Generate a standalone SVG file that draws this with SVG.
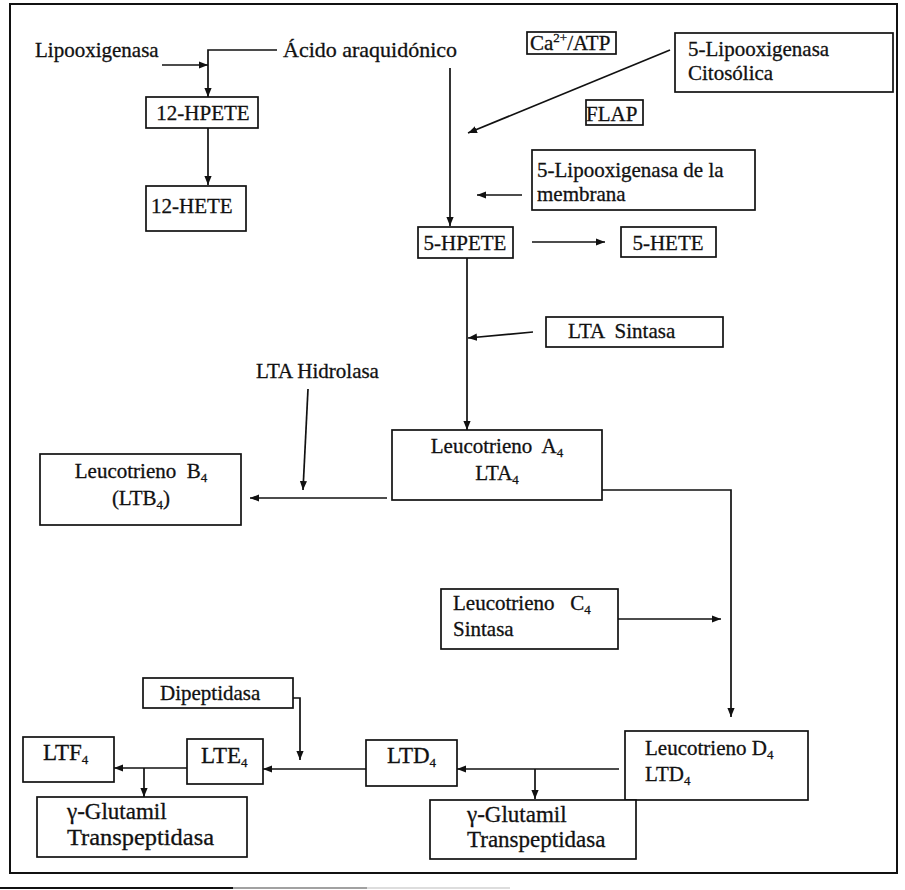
<svg xmlns="http://www.w3.org/2000/svg" width="905" height="890" viewBox="0 0 905 890">
  <style>
    .box { fill: #ffffff; stroke: #111111; stroke-width: 1.7; }
    .lbl { font-family: "Liberation Serif", "Times New Roman", serif; font-size: 21px; fill: #111111; stroke: #111111; stroke-width: 0.3; }
    .big { font-size: 23px; }
    .sub { font-size: 13px; }
    .sup { font-size: 13px; }
    .wire { fill: none; stroke: #111111; stroke-width: 1.7; }
    .arrow { marker-end: url(#ah); }
  </style>
  <defs>
    <marker id="ah" viewBox="0 0 10 8" refX="10" refY="4" markerWidth="9" markerHeight="8" markerUnits="userSpaceOnUse" orient="auto">
      <path d="M0,0 L10,4 L0,8 z" fill="#111111"/>
    </marker>
  </defs>

  <rect width="905" height="890" fill="#ffffff"/>

  <!-- outer frame -->
  <rect x="10" y="4" width="887" height="869" fill="none" stroke="#111111" stroke-width="2"/>
  <!-- rule under the frame -->
  <line x1="0" y1="888" x2="233" y2="888" stroke="#111111" stroke-width="2"/>
  <line x1="233" y1="888" x2="367" y2="888" stroke="#444444" stroke-width="1.2"/>
  <line x1="367" y1="888" x2="510" y2="888" stroke="#bbbbbb" stroke-width="1"/>

  <!-- connectors -->
  <g id="connectors">
    <path class="wire arrow" d="M162,65 L208,65"/>
    <path class="wire arrow" d="M277,50 L208,50 L208,97"/>
    <path class="wire arrow" d="M208,128 L208,185"/>
    <path class="wire arrow" d="M450,68 L450,226"/>
    <path class="wire arrow" d="M670,50 L468,133"/>
    <path class="wire arrow" d="M522,195 L477,195"/>
    <path class="wire arrow" d="M532,242 L605,242"/>
    <path class="wire arrow" d="M467,258 L467,430"/>
    <path class="wire arrow" d="M533,332 L468,338"/>
    <path class="wire arrow" d="M387,498 L250,498"/>
    <path class="wire arrow" d="M308,389 L303,490"/>
    <path class="wire arrow" d="M602,490 L731,490 L731,717"/>
    <path class="wire arrow" d="M618,619 L721,619"/>
    <path class="wire arrow" d="M619,769 L457,769"/>
    <path class="wire arrow" d="M535,769 L535,799"/>
    <path class="wire arrow" d="M366,769 L263,769"/>
    <path class="wire arrow" d="M285,698 L300,698 L300,760"/>
    <path class="wire arrow" d="M187,768 L114,768"/>
    <path class="wire arrow" d="M144,768 L144,797"/>
  </g>

  <!-- free labels -->
  <g id="lipooxigenasa">
    <text class="lbl" x="35" y="57">Lipooxigenasa</text>
  </g>
  <g id="acido-araquidonico">
    <text class="lbl" x="283" y="57" style="font-size:22px">Ácido araquidónico</text>
  </g>
  <g id="lta-hidrolasa">
    <text class="lbl" x="256" y="378">LTA Hidrolasa</text>
  </g>

  <!-- nodes -->
  <g id="hpete-12">
    <rect class="box" x="146" y="97" width="112" height="31"/>
    <text class="lbl" x="203" y="120" text-anchor="middle">12-HPETE</text>
  </g>
  <g id="hete-12">
    <rect class="box" x="146" y="186" width="100" height="45"/>
    <text class="lbl" x="151" y="213">12-HETE</text>
  </g>
  <g id="ca-atp">
    <rect class="box" x="527" y="32" width="89" height="22"/>
    <text class="lbl" x="530" y="50">Ca<tspan class="sup" dy="-8">2+</tspan><tspan dy="8">/ATP</tspan></text>
  </g>
  <g id="lox5-citosolica">
    <rect class="box" x="675" y="33" width="218" height="59"/>
    <text class="lbl" x="688" y="56">5-Lipooxigenasa</text>
    <text class="lbl" x="688" y="80">Citosólica</text>
  </g>
  <g id="flap">
    <rect class="box" x="586" y="100" width="57" height="25"/>
    <text class="lbl" x="586" y="121">FLAP</text>
  </g>
  <g id="lox5-membrana">
    <rect class="box" x="532" y="150" width="223" height="60"/>
    <text class="lbl" x="537" y="177">5-Lipooxigenasa de la</text>
    <text class="lbl" x="537" y="201">membrana</text>
  </g>
  <g id="hpete-5">
    <rect class="box" x="418" y="227" width="95" height="31"/>
    <text class="lbl" x="465" y="250" text-anchor="middle">5-HPETE</text>
  </g>
  <g id="hete-5">
    <rect class="box" x="621" y="227" width="95" height="30"/>
    <text class="lbl" x="668" y="250" text-anchor="middle">5-HETE</text>
  </g>
  <g id="lta-sintasa">
    <rect class="box" x="546" y="317" width="177" height="30"/>
    <text class="lbl" x="568" y="338" xml:space="preserve">LTA  Sintasa</text>
  </g>
  <g id="lta4">
    <rect class="box" x="392" y="430" width="210" height="70"/>
    <text class="lbl" x="497" y="453" text-anchor="middle" xml:space="preserve">Leucotrieno  A<tspan class="sub" dy="4">4</tspan></text>
    <text class="lbl" x="497" y="480" text-anchor="middle">LTA<tspan class="sub" dy="4">4</tspan></text>
  </g>
  <g id="ltb4">
    <rect class="box" x="40" y="454" width="201" height="71"/>
    <text class="lbl" x="141" y="478" text-anchor="middle" xml:space="preserve">Leucotrieno  B<tspan class="sub" dy="4">4</tspan></text>
    <text class="lbl" x="141" y="505" text-anchor="middle">(LTB<tspan class="sub" dy="4">4</tspan><tspan dy="-4">)</tspan></text>
  </g>
  <g id="ltc4-sintasa">
    <rect class="box" x="441" y="589" width="177" height="60"/>
    <text class="lbl" x="453" y="610" xml:space="preserve">Leucotrieno   C<tspan class="sub" dy="4">4</tspan></text>
    <text class="lbl" x="453" y="636">Sintasa</text>
  </g>
  <g id="ltd4-main">
    <rect class="box" x="625" y="731" width="183" height="69"/>
    <text class="lbl" x="645" y="755">Leucotrieno D<tspan class="sub" dy="4">4</tspan></text>
    <text class="lbl" x="645" y="781">LTD<tspan class="sub" dy="4">4</tspan></text>
  </g>
  <g id="ltd4">
    <rect class="box" x="366" y="740" width="91" height="46"/>
    <text class="lbl big" x="387" y="763">LTD<tspan class="sub" dy="4">4</tspan></text>
  </g>
  <g id="gamma-gt-right">
    <rect class="box" x="430" y="800" width="206" height="59"/>
    <text class="lbl big" x="467" y="822">γ-Glutamil</text>
    <text class="lbl big" x="467" y="847">Transpeptidasa</text>
  </g>
  <g id="dipeptidasa">
    <rect class="box" x="143" y="678" width="150" height="30"/>
    <text class="lbl" x="160" y="700">Dipeptidasa</text>
  </g>
  <g id="lte4">
    <rect class="box" x="187" y="739" width="76" height="45"/>
    <text class="lbl big" x="201" y="763">LTE<tspan class="sub" dy="4">4</tspan></text>
  </g>
  <g id="ltf4">
    <rect class="box" x="23" y="737" width="91" height="45"/>
    <text class="lbl big" x="43" y="760">LTF<tspan class="sub" dy="4">4</tspan></text>
  </g>
  <g id="gamma-gt-left">
    <rect class="box" x="37" y="797" width="210" height="60"/>
    <text class="lbl big" x="67" y="819">γ-Glutamil</text>
    <text class="lbl big" x="67" y="845" textLength="147" lengthAdjust="spacingAndGlyphs">Transpeptidasa</text>
  </g>
</svg>
